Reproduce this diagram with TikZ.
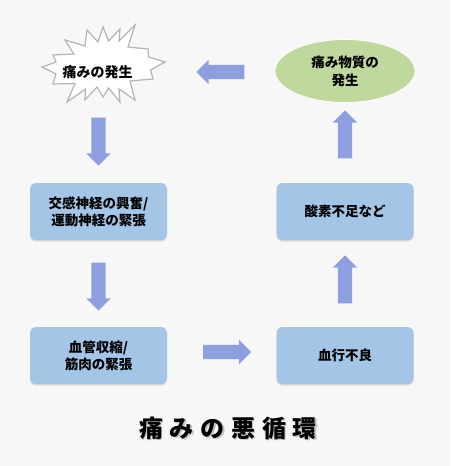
\documentclass[tikz,border=0pt]{standalone}
\usepackage{fontspec}
\newfontfamily\jp{Noto Sans CJK JP}
\usetikzlibrary{shapes.geometric,shapes.arrows,shadows}
\definecolor{bg}{HTML}{F7F7F7}
\definecolor{boxblue}{HTML}{A5C5E6}
\definecolor{leafgreen}{HTML}{BED89E}
\definecolor{arrowblue}{HTML}{8E9FE0}
\definecolor{burstline}{HTML}{B4B4B4}
\begin{document}
\begin{tikzpicture}[x=1pt,y=-1pt,
  boxnode/.style={fill=boxblue, rounded corners=6pt, minimum width=137pt, minimum height=57pt,
    align=center, inner sep=0pt, font=\jp\bfseries\fontsize{13.5}{17}\selectfont,
    drop shadow={shadow xshift=0pt, shadow yshift=-1.5pt, opacity=0.25}},
  blockarrow/.style={single arrow, fill=arrowblue, draw=none, inner xsep=0pt, inner ysep=7pt,
    single arrow head extend=5pt, minimum height=48pt, single arrow tip angle=90},
  burst/.style={draw=burstline, fill=white, line width=1.2pt, line join=miter}
]
\fill[bg] (0,0) rectangle (450,466);
\useasboundingbox (0,0) rectangle (450,466);

% starburst
\draw[burst] (65,40) -- (85,46) -- (87,30) -- (98,42) -- (103,27) -- (108.5,41) -- (120,29)
  -- (119,41) -- (135,25) -- (128,47) -- (148,49) -- (148.5,57) -- (165,62) -- (150.6,70)
  -- (153,79) -- (130,81) -- (135,100) -- (119,89) -- (120,102) -- (108.5,88) -- (103,97)
  -- (97,87) -- (85,100) -- (85.5,89) -- (67,102) -- (75,83.5) -- (53,84) -- (56,74)
  -- (42,67) -- (56,62) -- (53,55) -- (74,54) -- cycle;
\node[font=\jp\bfseries\fontsize{14}{17}\selectfont] (pain) at (97.5,72) {痛みの発生};

% ellipse
\node[ellipse, fill=leafgreen, draw=white, line width=0.8pt, minimum width=140pt, minimum height=63pt,
  align=center, inner sep=0pt, font=\jp\bfseries\fontsize{13.5}{18}\selectfont] (subst) at (345,71) {痛み物質の\\発生};

% boxes
\node[boxnode] (nerve) at (98.5,211.5) {交感神経の興奮/\\運動神経の緊張};
\node[boxnode] (muscle) at (98.5,355.5) {血管収縮/\\筋肉の緊張};
\node[boxnode] (blood) at (345,355.5) {血行不良};
\node[boxnode] (oxygen) at (345,211.5) {酸素不足など};

% arrows
\node[blockarrow, rotate=-90] (a1) at (98.5,138) {};
\node[blockarrow, rotate=-90] (a2) at (98.5,283) {};
\node[blockarrow] (a3) at (223.5,352) {};
\node[blockarrow, rotate=90] (a4) at (345,283) {};
\node[blockarrow, rotate=90] (a5) at (345,138) {};
\node[blockarrow, rotate=180] (a6) at (224,72) {};

% title
\node[text=black!45, opacity=0.5, font=\jp\bfseries\fontsize{24}{24}\selectfont] at (229.5,429.5)
  {\addfontfeature{LetterSpace=28}痛みの悪循環};
\node[font=\jp\bfseries\fontsize{24}{24}\selectfont] (title) at (228,428)
  {\addfontfeature{LetterSpace=28}痛みの悪循環};
\end{tikzpicture}
\end{document}
